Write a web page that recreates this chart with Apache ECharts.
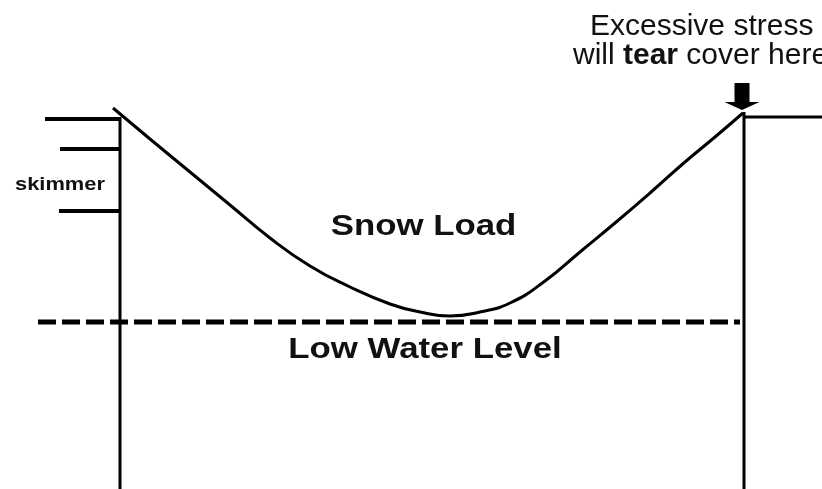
<!DOCTYPE html>
<html>
<head>
<meta charset="utf-8">
<script src="https://cdn.jsdelivr.net/npm/echarts@6/dist/echarts.min.js"></script>
<style>html,body{margin:0;padding:0;background:#fff}#c{width:822px;height:489px}</style>
</head>
<body>
<div id="c"></div>
<script>
// Pool cover profile (x, depth)
const coverX = [113,150,190,230,270,310,350,390,420,450,480,510,545,580,615,650,685,715,743];
const coverY = [108,139,172,205,238,266,287,304,312,316,312,303,281,252,223,193,162,137,113];
// Pool walls
const leftWall = [[120,117],[120,489]];
const rightWall = [[744,112],[744,489]];
const ledge = [[744,117],[822,117]];
// Skimmer marks
const skimmerTop = [[45,119],[120,119]];
const skimmerMid = [[60,149],[120,149]];
const skimmerLow = [[59,211],[120,211]];
// Low water level
const waterLevel = [[38,322],[740,322]];
// Arrow pointing at tear spot
const arrowPoint = [[742,96.5]];
// Labels
const labels = {
  snow: 'Snow Load',
  water: 'Low Water Level',
  skimmer: 'skimmer',
  line1: 'Excessive stress'
};

const chart = echarts.init(document.getElementById('c'));
const blk = '#000';
function seg(data, w, type) {
  return {type:'line', data:data, symbol:'none', silent:true,
    lineStyle:{color:blk, width:w, type:type||'solid', cap:'butt'}};
}
chart.setOption({
  animation:false,
  backgroundColor:'#fff',
  grid:{left:0,right:0,top:0,bottom:0},
  xAxis:{type:'value', min:0, max:822, show:false},
  yAxis:{type:'value', min:0, max:489, inverse:true, show:false},
  series:[
    {type:'line', smooth:0.5, symbol:'none', data:coverX.map((x,i)=>[x,coverY[i]]),
      lineStyle:{color:blk, width:3}},
    seg(leftWall,3), seg(rightWall,3), seg(ledge,3),
    seg(skimmerTop,4), seg(skimmerMid,4), seg(skimmerLow,4),
    seg(waterLevel,5,[18,6]),
    {type:'scatter', data:arrowPoint, symbol:'path://M10 0 L25 0 L25 19 L35 19 L17.5 27 L0 19 L10 19 Z',
      symbolSize:[35,27], itemStyle:{color:blk, opacity:1}, silent:true}
  ],
  graphic:[
    {type:'text', x:423.5, y:227, scaleX:1.16, style:{text:labels.snow, font:'bold 30px "Liberation Sans", Arial, sans-serif', fill:'#111', align:'center', verticalAlign:'middle'}},
    {type:'text', x:425, y:350, scaleX:1.16, style:{text:labels.water, font:'bold 30px "Liberation Sans", Arial, sans-serif', fill:'#111', align:'center', verticalAlign:'middle'}},
    {type:'text', x:60, y:185, scaleX:1.15, style:{text:labels.skimmer, font:'bold 19px "Liberation Sans", Arial, sans-serif', fill:'#111', align:'center', verticalAlign:'middle'}},
    {type:'text', x:590, y:27, style:{text:labels.line1, font:'30px "Liberation Sans", Arial, sans-serif', fill:'#111', align:'left', verticalAlign:'middle'}},
    {type:'text', x:573, y:56, style:{text:'{a|will }{b|tear}{a| cover here}', align:'left', verticalAlign:'middle',
      rich:{a:{font:'30px "Liberation Sans", Arial, sans-serif', fill:'#111'}, b:{font:'bold 30px "Liberation Sans", Arial, sans-serif', fill:'#111'}}}}
  ]
});
</script>
</body>
</html>
